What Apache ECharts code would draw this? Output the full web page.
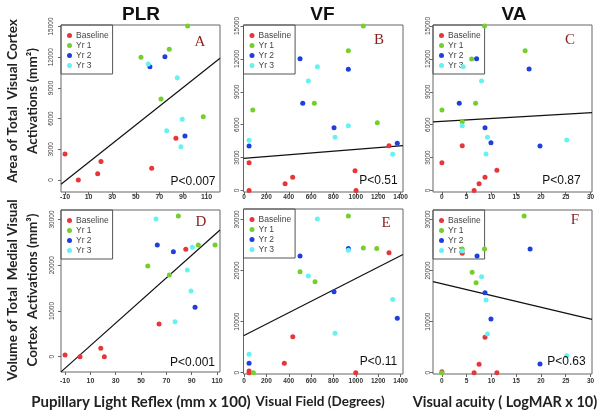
<!DOCTYPE html>
<html>
<head>
<meta charset="utf-8">
<script src="https://cdn.jsdelivr.net/npm/echarts@6/dist/echarts.min.js"></script>
<style>
html, body { margin: 0; padding: 0; background: #fff; }
#chart { width: 604px; height: 414px; }
</style>
</head>
<body>
<div id="chart"></div>
<script>
var groups = ['Baseline', 'Yr 1', 'Yr 2', 'Yr 3'];
var colors = ['#e8353a', '#72cf2c', '#1e3fe0', '#66f2f0'];

// tick labels
var plrTicks = [-10, 10, 30, 50, 70, 90, 110];
var vfTicks = [0, 200, 400, 600, 800, 1000, 1200, 1400];
var vaTicks = [0, 5, 10, 15, 20, 25, 30];
var areaTicks = [0, 3000, 6000, 9000, 12000, 15000];
var volTicks = [0, 10000, 20000, 30000];

// A: PLR vs area
var aBase = [[-10, 2535], [1.3, 0], [17.7, 620], [20.5, 1800], [63.5, 1150], [84, 4080]];
var aYr1 = [[94, 15050], [78.4, 12770], [54.4, 11990], [71.4, 7915], [107.2, 6190]];
var aYr2 = [[74.7, 12050], [62, 11070], [91.7, 4300]];
var aYr3 = [[60.6, 11340], [85.2, 10000], [89.4, 5930], [76.2, 4820], [88.3, 3260]];
var fitA = [[-13.4, -416], [121.4, 11891]];

// B: VF vs area
var bBase = [[45, 2535], [45, 0], [367, 620], [435, 1204], [993, 1805], [1002, 0], [1297, 4085]];
var bYr1 = [[1067, 15000], [933, 12750], [78, 7340], [629, 7950], [1192, 6180]];
var bYr2 = [[501, 12020], [933, 11050], [525, 7950], [805, 5725], [45, 4055], [1371, 4300]];
var bYr3 = [[656, 11290], [575, 9980], [933, 5910], [814, 4850], [45, 4590], [1330, 3300]];
var fitB = [[-5, 2925], [1422, 4085]];

// C: VA vs area
var cBase = [[0, 2535], [4.1, 4085], [6.5, 0], [7.5, 620], [8.7, 1204], [11.1, 1842]];
var cYr1 = [[8.6, 15000], [16.8, 12750], [6.0, 12000], [6.8, 7950], [0, 7340], [4.1, 6270]];
var cYr2 = [[7.0, 12020], [17.6, 11080], [3.5, 7950], [8.7, 5725], [9.9, 4360], [19.8, 4055]];
var cYr3 = [[4.3, 11290], [8.0, 9980], [4.1, 5910], [9.2, 4850], [8.9, 3330], [25.2, 4600]];
var fitC = [[-1.8, 6250], [30.3, 7097]];

// D: PLR vs volume
var dBase = [[-10, 370], [1.8, 0], [18.2, 1840], [21, 0], [64.2, 7150], [85.3, 23480]];
var dYr1 = [[79.4, 30760], [55.3, 19830], [72.3, 17860], [95.2, 24420], [108.4, 24420]];
var dYr2 = [[62.8, 24420], [75.5, 22960], [92.6, 10800]];
var dYr3 = [[61.8, 30100], [86.5, 18960], [90.5, 23920], [89.4, 14360], [76.8, 7650]];
var fitD = [[-13.2, -3327], [112.3, 27700]];

// E: VF vs volume
var eBase = [[45, 330], [45, 0], [360, 1840], [436, 7045], [999, 0], [1297, 23480]];
var eYr1 = [[933, 30660], [501, 19760], [635, 17800], [1067, 24420], [1187, 24300], [83, 0]];
var eYr2 = [[45, 1840], [501, 22840], [805, 15850], [933, 24300], [1371, 10650]];
var eYr3 = [[45, 3600], [656, 30080], [575, 18930], [814, 7710], [933, 23970], [1330, 14330]];
var fitE = [[-5, 7224], [1422, 23135]];

// F: VA vs volume
var fBase = [[0, 196], [7.5, 1640], [6.5, 0], [11.1, 0], [8.7, 6930], [4.1, 23370]];
var fYr1 = [[16.6, 30660], [4.1, 24200], [8.6, 24200], [6.1, 19650], [6.9, 17610], [0, 0]];
var fYr2 = [[7.1, 22840], [17.8, 24200], [8.7, 15660], [9.9, 10510], [19.8, 1700]];
var fYr3 = [[4.1, 23820], [8.0, 18790], [8.9, 14230], [9.2, 7570], [25.2, 3330]];
var fitF = [[-1.8, 17830], [30.3, 10440]];

var panels = [
    {box: [61, 25, 159, 167], x: [-13.4, 121.4], y: [-1173, 15147], xt: plrTicks, yt: areaTicks,
     xm: 2, ym: 6, xfs: 7, data: [aBase, aYr1, aYr2, aYr3], fit: fitA},
    {box: [243.5, 25, 159.5, 167], x: [-5, 1422], y: [-137, 15091], xt: vfTicks, yt: areaTicks,
     xm: 2, ym: 2.5, xfs: 6.5, data: [bBase, bYr1, bYr2, bYr3], fit: fitB},
    {box: [433, 25, 159, 167], x: [-1.8, 30.3], y: [-137, 15091], xt: vaTicks, yt: areaTicks,
     xm: 2, ym: 1, xfs: 6.5, data: [cBase, cYr1, cYr2, cYr3], fit: fitC},
    {box: [61, 210, 159, 162], x: [-13.2, 112.3], y: [-3345, 32070], xt: plrTicks, yt: volTicks,
     xm: 6, ym: 5, xfs: 7, data: [dBase, dYr1, dYr2, dYr3], fit: fitD},
    {box: [243.5, 209, 159.5, 165], x: [-5, 1422], y: [-254, 32035], xt: vfTicks, yt: volTicks,
     xm: 4, ym: 2.5, xfs: 6.5, data: [eBase, eYr1, eYr2, eYr3], fit: fitE},
    {box: [433, 210, 159, 164], x: [-1.8, 30.3], y: [-254, 31840], xt: vaTicks, yt: volTicks,
     xm: 4, ym: 1, xfs: 6.5, data: [fBase, fYr1, fYr2, fYr3], fit: fitF}
];

function plain(v) {
    return String(v);
}

var grids = [], xAxes = [], yAxes = [], legends = [], series = [];
panels.forEach(function (p, i) {
    grids.push({
        left: p.box[0], top: p.box[1], width: p.box[2], height: p.box[3],
        show: true, borderColor: '#666', borderWidth: 1
    });
    xAxes.push({
        gridIndex: i, type: 'value', min: p.x[0], max: p.x[1],
        axisLine: {show: false, onZero: false},
        splitLine: {show: false},
        axisTick: {show: true, length: 3, customValues: p.xt, lineStyle: {color: '#666'}},
        axisLabel: {customValues: p.xt, formatter: plain, margin: p.xm, fontSize: p.xfs,
                    fontWeight: 'bold', color: '#333', fontFamily: 'Liberation Sans'}
    });
    yAxes.push({
        gridIndex: i, type: 'value', min: p.y[0], max: p.y[1],
        axisLine: {show: false, onZero: false},
        splitLine: {show: false},
        axisTick: {show: true, length: 3, customValues: p.yt, lineStyle: {color: '#666'}},
        axisLabel: {customValues: p.yt, formatter: plain, rotate: 90, margin: p.ym,
                    fontSize: 6.5, color: '#444', fontFamily: 'Liberation Sans'}
    });
    legends.push({
        data: groups, left: p.box[0], top: p.box[1], orient: 'vertical',
        icon: 'circle', itemWidth: 5, itemHeight: 5, itemGap: 1,
        padding: [6, 4, 4, 6], borderColor: '#555', borderWidth: 1,
        selectedMode: false,
        textStyle: {fontSize: 8.5, color: '#444', fontFamily: 'Liberation Sans', padding: [0, 0, 0, -1]}
    });
    p.data.forEach(function (d, g) {
        series.push({
            name: groups[g], type: 'scatter', xAxisIndex: i, yAxisIndex: i,
            data: d, symbolSize: 5, z: 6,
            itemStyle: {color: colors[g], opacity: 1}
        });
    });
    series.push({
        name: 'fit', type: 'line', xAxisIndex: i, yAxisIndex: i,
        data: p.fit, symbol: 'none', z: 5,
        lineStyle: {color: '#111', width: 1.2}
    });
});

function label(text, x, y, font, color, rot) {
    return {
        type: 'text', x: x, y: y, rotation: rot || 0, z: 10,
        style: {text: text, font: font, fill: color,
                align: 'center', verticalAlign: 'middle',
                textAlign: 'center', textVerticalAlign: 'middle'}
    };
}

var titleFont = 'bold 19px "Liberation Sans"';
var yNameFont = 'bold 13.5px Lato';
var letterFont = '15px "Liberation Serif"';
var pFont = '12px "Liberation Sans"';
var letterColor = '#8b1c1c';

var texts = [
    label('PLR', 141, 15, titleFont, '#111'),
    label('VF', 322.5, 15, titleFont, '#111'),
    label('VA', 514, 15, titleFont, '#111'),
    label('A', 200, 42, letterFont, letterColor),
    label('B', 379, 40, letterFont, letterColor),
    label('C', 570, 40, letterFont, letterColor),
    label('D', 201, 222, letterFont, letterColor),
    label('E', 386, 223, letterFont, letterColor),
    label('F', 575, 220, letterFont, letterColor),
    label('P<0.007', 193, 182, pFont, '#111'),
    label('P<0.51', 378.5, 181, pFont, '#111'),
    label('P<0.87', 561.5, 181, pFont, '#111'),
    label('P<0.001', 192.5, 363, pFont, '#111'),
    label('P<0.11', 378.5, 362, pFont, '#111'),
    label('P<0.63', 566.5, 362, pFont, '#111'),
    label('Pupillary Light Reflex (mm x 100)', 141, 402, 'bold 15px Lato', '#222'),
    label('Visual Field (Degrees)', 320, 402, 'bold 13.5px Lato', '#222'),
    label('Visual acuity ( LogMAR x 10)', 505, 402, 'bold 14.5px Lato', '#222'),
    label('Area of Total  Visual Cortex', 13, 101, yNameFont, '#222', Math.PI / 2),
    label('Activations (mm\u00b2)', 33, 101, yNameFont, '#222', Math.PI / 2),
    label('Volume of Total  Medial Visual', 13, 290, yNameFont, '#222', Math.PI / 2),
    label('Cortex  Activations (mm\u00b3)', 33, 290, yNameFont, '#222', Math.PI / 2)
];

var chart = echarts.init(document.getElementById('chart'), null, {renderer: 'canvas'});
chart.setOption({
    backgroundColor: '#fff',
    animation: false,
    grid: grids,
    xAxis: xAxes,
    yAxis: yAxes,
    legend: legends,
    series: series,
    graphic: texts
});
</script>
</body>
</html>
